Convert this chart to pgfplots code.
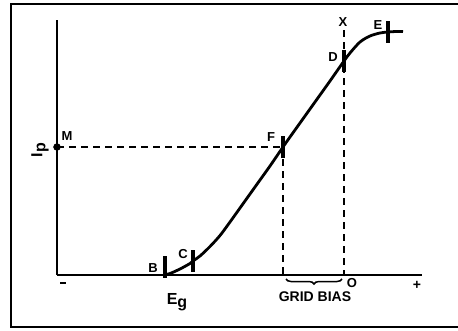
\documentclass[border=0pt]{standalone}
\usepackage{pgfplots}
\pgfplotsset{compat=1.18}
\usepackage{fontspec}
\setmainfont{Liberation Sans}
\usetikzlibrary{decorations.pathreplacing}

\begin{document}
\begin{tikzpicture}
\begin{axis}[
    scale only axis,
    width=365pt, height=255pt,
    xmin=57, xmax=422, ymin=55, ymax=310,
    axis lines=left,
    axis line style={-, line width=2pt},
    xtick=\empty, ytick=\empty,
    clip=false,
  ]
  % characteristic curve
  \addplot[black, line width=2.8pt, smooth, tension=0.5] coordinates {
    (164,55) (170,56.5) (180,61) (190,66.5) (193,69) (200,74) (210,83.5)
    (220,94.5) (230,108) (240,122) (250,136) (260,150) (270,164) (283,183)
    (290,193) (300,207) (310,221) (320,235) (330,249) (344,269) (350,277)
    (360,288) (370,294) (380,297) (388,298) (396,298.5) (403,298.5)
  };
  % dashed projections
  \addplot[black, line width=2pt, dash pattern=on 7pt off 5pt] coordinates {(57,183) (283,183)};
  \addplot[black, line width=2pt, dash pattern=on 7pt off 5pt] coordinates {(283,183) (283,55)};
  \addplot[black, line width=2pt, dash pattern=on 7pt off 5pt] coordinates {(344,300) (344,55)};
  % point bars
  \addplot[only marks, mark=|, mark size=11pt, mark options={line width=4.5pt}] coordinates {
    (165,63) (193,69) (283,183) (344,269) (388,298)
  };
  \addplot[only marks, mark=*, mark size=3.5pt] coordinates {(57,183)};

  \draw[line width=1.5pt, decorate, decoration={brace, mirror, amplitude=5pt}]
    (axis cs:286,51) -- (axis cs:342,51);

  \begin{scope}[font=\fontsize{13}{15}\selectfont\bfseries]
  \node at (axis cs:67,194) {M};
  \node at (axis cs:271,193) {F};
  \node at (axis cs:333,273) {D};
  \node at (axis cs:343,308) {X};
  \node at (axis cs:378,305) {E};
  \node at (axis cs:153,62) {B};
  \node at (axis cs:183,76) {C};
  \node at (axis cs:352,47) {O};
  \end{scope}
  \begin{scope}[font=\fontsize{14}{16}\selectfont\bfseries]
  \node at (axis cs:63,47) {\rule{6pt}{2.2pt}};
  \node at (axis cs:417,45) {+};
  \node at (axis cs:315,33) {GRID BIAS};
  \end{scope}
  \begin{scope}[font=\fontsize{16}{18}\selectfont\bfseries]
  \node at (axis cs:177,28) {E\raisebox{-0.35ex}{g}};
  \node[rotate=90] at (axis cs:40,180) {I\raisebox{-0.35ex}{p}};
  \end{scope}

  \draw[line width=2.5pt] (axis cs:470,3) -- (axis cs:11,3) -- (axis cs:11,326) -- (axis cs:470,326);
  \coordinate (bl) at (axis cs:0,0);
  \coordinate (tr) at (axis cs:458,330);
\end{axis}
\pgfresetboundingbox
\path[use as bounding box] (bl) rectangle (tr);
\end{tikzpicture}
\end{document}
